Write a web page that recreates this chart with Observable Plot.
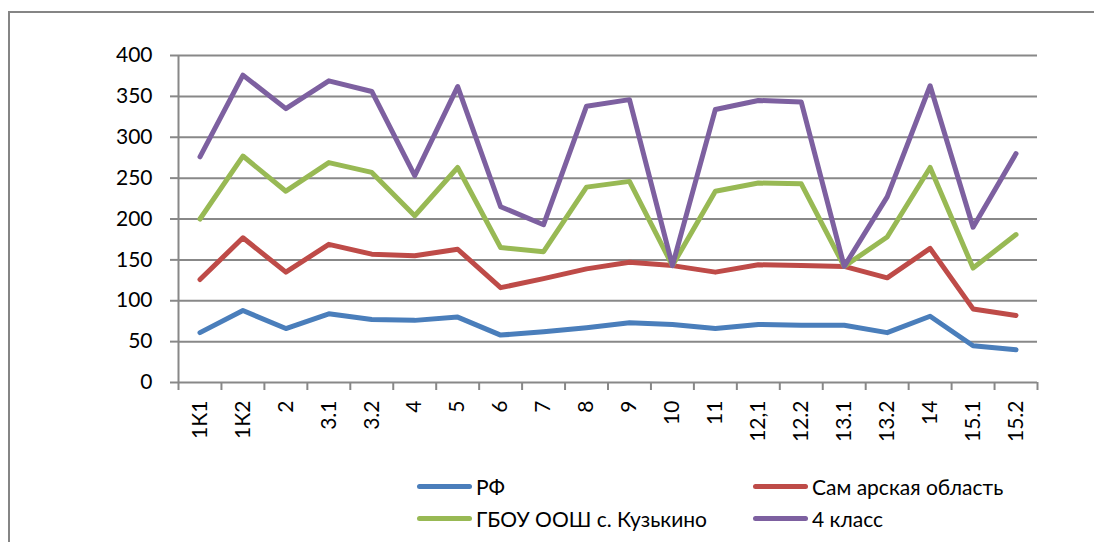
<!DOCTYPE html>
<html><head><meta charset="utf-8">
<script src="https://cdn.jsdelivr.net/npm/d3@7"></script>
<script src="https://cdn.jsdelivr.net/npm/@observablehq/plot@0.6"></script>
<style>
body{margin:0;background:#fff;}
#wrap{position:relative;width:1094px;height:542px;overflow:hidden;font-family:Lato,sans-serif;background:#fff;}
#frame{position:absolute;left:8px;top:11px;width:2000px;height:2000px;border-left:2px solid #858585;border-top:2px solid #858585;}
#chart{position:absolute;left:0;top:0;}
#legend{position:absolute;left:417px;top:470px;display:grid;grid-template-columns:336px auto;}
.item{display:flex;align-items:center;height:32px;font-size:21px;color:#000;white-space:nowrap;}
.sw{width:55px;height:5px;border-radius:3px;margin-right:4px;}
</style>
</head><body>
<div id="wrap"><div id="frame"></div><div id="chart"></div><div id="legend"></div></div>
<script>
const categories = ["1К1","1К2","2","3.1","3.2","4","5","6","7","8","9","10","11","12,1","12.2","13.1","13.2","14","15.1","15.2"];
const seriesNames = ["РФ","Сам арская область","ГБОУ ООШ с. Кузькино","4 класс"];
const seriesColors = ["#4a7ebb","#be4b48","#98b954","#7d60a0"];
const rf     = [61, 88, 66, 84, 77, 76, 80, 58, 62, 67, 73, 71, 66, 71, 70, 70, 61, 81, 45, 40];
const samara = [126, 177, 135, 169, 157, 155, 163, 116, 127, 139, 147, 143, 135, 144, 143, 142, 128, 164, 90, 82];
const gbou   = [200, 277, 234, 269, 257, 204, 263, 165, 160, 239, 246, 143, 234, 244, 243, 142, 178, 263, 140, 181];
const class4 = [276, 376, 335, 369, 356, 253, 362, 215, 193, 338, 346, 143, 334, 345, 343, 142, 227, 363, 190, 280];
const yTicks = [0,50,100,150,200,250,300,350,400];

const seriesValues = [rf, samara, gbou, class4];
const table = [];
seriesValues.forEach((vals, s) => vals.forEach((v, i) => table.push({i, v, name: seriesNames[s]})));
const n = categories.length;
const bounds = d3.range(n + 1).map(i => i - 0.5);

const chart = Plot.plot({
  width: 1094, height: 460,
  marginLeft: 178, marginRight: 57, marginTop: 55, marginBottom: 78,
  x: {type: "linear", domain: [-0.5, n - 0.5]},
  y: {domain: [0, 400]},
  color: {domain: seriesNames, range: seriesColors},
  style: {fontFamily: "Lato, sans-serif", fontSize: "21px", color: "#000", background: "transparent"},
  marks: [
    Plot.gridY(yTicks, {stroke: "#888", strokeOpacity: 1, strokeWidth: 2}),
    Plot.ruleX([-0.5], {y1: 0, y2: 400, stroke: "#888", strokeWidth: 2}),
    Plot.axisY(yTicks, {tickSize: 8, tickPadding: 18, stroke: "#888", strokeWidth: 2, fontSize: 21, label: null}),
    Plot.axisX(bounds, {tickSize: 8, tickFormat: () => "", stroke: "#888", strokeWidth: 2, label: null}),
    Plot.axisX(d3.range(n), {tickSize: 0, tickPadding: 18, tickRotate: -90, tickFormat: i => categories[i], fontSize: 21, label: null}),
    Plot.lineY(table, {x: "i", y: "v", stroke: "name", z: "name", strokeWidth: 5, strokeLinejoin: "round", strokeLinecap: "round"})
  ]
});
document.getElementById("chart").appendChild(chart);

const legend = document.getElementById("legend");
seriesNames.forEach((name, k) => {
  const it = document.createElement("div");
  it.className = "item";
  const sw = document.createElement("span");
  sw.className = "sw";
  sw.style.background = seriesColors[k];
  const tx = document.createElement("span");
  tx.textContent = name;
  it.appendChild(sw); it.appendChild(tx);
  legend.appendChild(it);
});
</script>
</body></html>
